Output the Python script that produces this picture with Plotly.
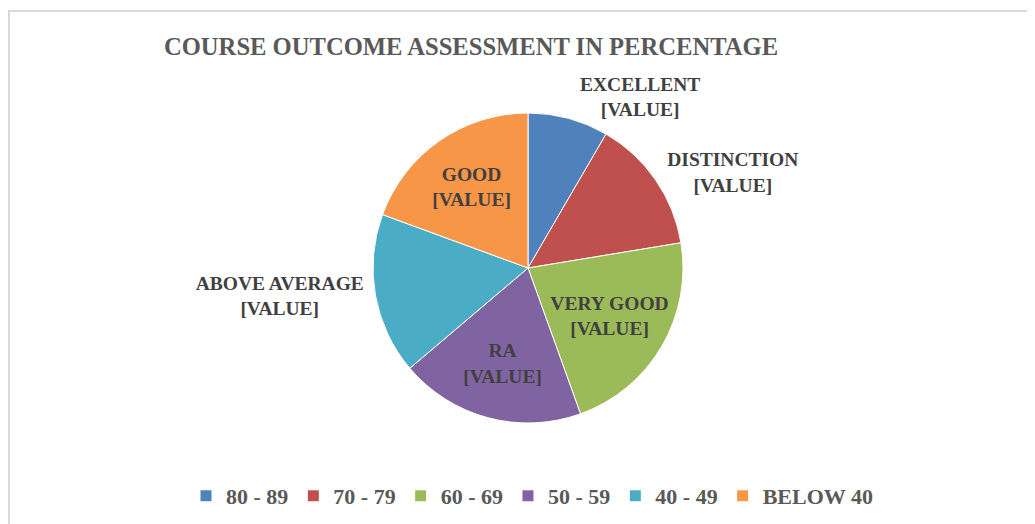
import plotly.graph_objects as go

ranges = ["80 - 89", "70 - 79", "60 - 69", "50 - 59", "40 - 49", "BELOW 40"]
grades = ["EXCELLENT", "DISTINCTION", "VERY GOOD", "RA", "ABOVE AVERAGE", "GOOD"]
shares = [8.4, 14.0, 22.1, 19.3, 16.8, 19.4]
colors = ["#4F81BD", "#C0504D", "#9BBB59", "#8064A2", "#4BACC6", "#F79646"]
label_pos = ["outside", "outside", "inside", "inside", "outside", "inside"]

W, H = 1035, 524
off = 8  # page body margin
cx, cy, r = 528 - off, 268 - off, 155

fig = go.Figure(go.Pie(
    labels=[f"<b>{s}</b>" for s in ranges], values=shares, text=grades,
    texttemplate="<b>%{text}<br>[VALUE]</b>",
    textposition=label_pos,
    insidetextorientation="horizontal",
    textfont=dict(family="Liberation Serif", size=19.5, color="#404040"),
    marker=dict(colors=colors, line=dict(color="white", width=1)),
    sort=False, direction="clockwise", rotation=0,
    hoverinfo="label+percent",
    domain=dict(x=[(cx - r) / W, (cx + r) / W], y=[1 - (cy + r) / H, 1 - (cy - r) / H]),
))

fig.update_layout(
    width=W, height=H,
    margin=dict(l=0, r=0, t=0, b=0),
    paper_bgcolor="white",
    font=dict(family="Liberation Serif"),
    title=dict(text="<b>COURSE OUTCOME ASSESSMENT IN PERCENTAGE</b>",
               x=(471 - off) / W, xanchor="center", y=1 - (46 - off) / H, yanchor="middle",
               font=dict(family="Liberation Serif", size=24.6, color="#595959")),
    legend=dict(orientation="h", x=(532 - off) / W, xanchor="center",
                y=1 - (496 - off) / H, yanchor="middle",
                font=dict(family="Liberation Serif", size=22, color="#595959"),
                itemclick=False, traceorder="normal"),
    uniformtext=dict(minsize=19, mode="show"),
    shapes=[dict(type="rect", xref="paper", yref="paper",
                 x0=1 / W, x1=1.02, y0=-0.02, y1=1 - 3 / H,
                 line=dict(color="#D9D9D9", width=2))],
)

fig.write_html("out.html")
